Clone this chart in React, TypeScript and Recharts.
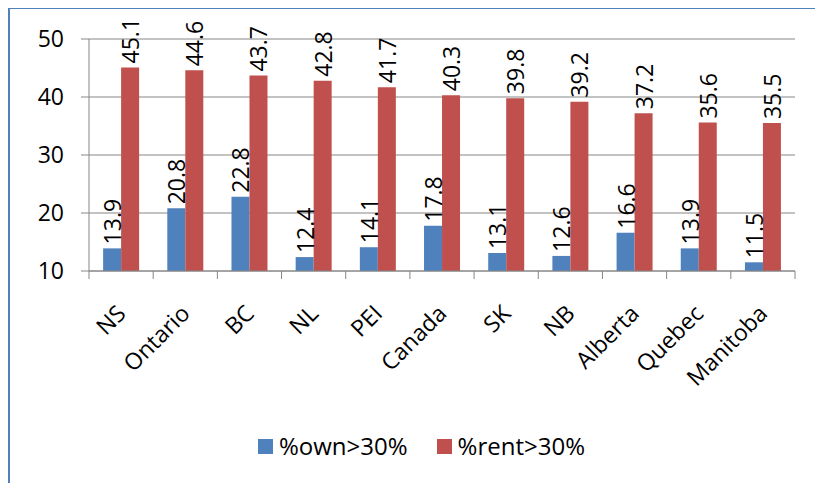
import React from 'react';
import { BarChart, Bar, XAxis, YAxis, CartesianGrid, Legend, LabelList } from 'recharts';

const regions = ['NS', 'Ontario', 'BC', 'NL', 'PEI', 'Canada', 'SK', 'NB', 'Alberta', 'Quebec', 'Manitoba'];
const ownOver30 = [13.9, 20.8, 22.8, 12.4, 14.1, 17.8, 13.1, 12.6, 16.6, 13.9, 11.5];
const rentOver30 = [45.1, 44.6, 43.7, 42.8, 41.7, 40.3, 39.8, 39.2, 37.2, 35.6, 35.5];
const yTicks = [10, 20, 30, 40, 50];

const OWN_COLOR = '#4F81BD';
const RENT_COLOR = '#C0504D';
const AXIS_COLOR = '#868686';

const data = regions.map((name, i) => ({
  name,
  pos: i + 0.5,
  own: ownOver30[i],
  rent: rentOver30[i],
}));

// category boundaries, used for the tick marks between groups
const edgeTicks = regions.map((_, i) => i).concat(regions.length);

const VerticalLabel = (props: any) => {
  const { x, y, width, value } = props;
  const cx = x + width / 2;
  const ty = y - 4;
  return (
    <text
      x={cx}
      y={ty}
      transform={`rotate(-90, ${cx}, ${ty})`}
      textAnchor="start"
      dominantBaseline="central"
      fontSize={23}
      fill="#000"
    >
      {value}
    </text>
  );
};

const AngledTick = (props: any) => {
  const { x, y, payload } = props;
  const tx = x + 6;
  const ty = y + 43;
  return (
    <text x={tx} y={ty} transform={`rotate(-45, ${tx}, ${ty})`} textAnchor="end" fontSize={23} fill="#000">
      {payload.value}
    </text>
  );
};

const NoLabel = () => <g />;

const renderLegend = (props: any) => {
  const { payload } = props;
  return (
    <div
      style={{
        display: 'flex',
        justifyContent: 'center',
        gap: 29,
        height: 30,
        lineHeight: '30px',
        fontSize: 24,
        paddingLeft: 38,
        boxSizing: 'border-box',
      }}
    >
      {payload.map((entry: any) => (
        <span key={entry.value} style={{ display: 'flex', alignItems: 'center', color: '#000' }}>
          <span style={{ width: 15, height: 15, background: entry.color, display: 'inline-block', marginRight: 6 }} />
          {entry.value}
        </span>
      ))}
    </div>
  );
};

const App: React.FC = () => {
  return (
    <div
      style={{
        width: 813,
        height: 474,
        borderLeft: '2px solid #4F81BD',
        borderTop: '1px solid #4F81BD',
        fontFamily: '"Open Sans", sans-serif',
      }}
    >
      <BarChart
        width={813}
        height={474}
        data={data}
        margin={{ top: 30, right: 28, bottom: 22, left: 0 }}
        barCategoryGap="22%"
        barGap={0}
      >
        <CartesianGrid vertical={false} stroke={AXIS_COLOR} />
        <XAxis
          xAxisId={0}
          type="number"
          dataKey="pos"
          domain={[0, regions.length]}
          ticks={edgeTicks}
          tick={<NoLabel />}
          tickSize={8}
          height={1}
          allowDataOverflow
          axisLine={{ stroke: AXIS_COLOR }}
          tickLine={{ stroke: AXIS_COLOR }}
        />
        <XAxis
          xAxisId="cat"
          dataKey="name"
          interval={0}
          height={159}
          tickSize={0}
          tickMargin={0}
          axisLine={false}
          tickLine={false}
          tick={<AngledTick />}
        />
        <YAxis
          domain={[10, 50]}
          ticks={yTicks}
          width={79}
          tickSize={8}
          tickMargin={17}
          tick={{ fontSize: 23, fill: '#000' }}
          axisLine={{ stroke: AXIS_COLOR }}
          tickLine={{ stroke: AXIS_COLOR }}
        />
        <Legend verticalAlign="bottom" height={30} content={renderLegend} />
        <Bar xAxisId="cat" dataKey="own" name="%own>30%" fill={OWN_COLOR} isAnimationActive={false}>
          <LabelList dataKey="own" content={VerticalLabel} />
        </Bar>
        <Bar xAxisId="cat" dataKey="rent" name="%rent>30%" fill={RENT_COLOR} isAnimationActive={false}>
          <LabelList dataKey="rent" content={VerticalLabel} />
        </Bar>
      </BarChart>
    </div>
  );
};

export default App;
